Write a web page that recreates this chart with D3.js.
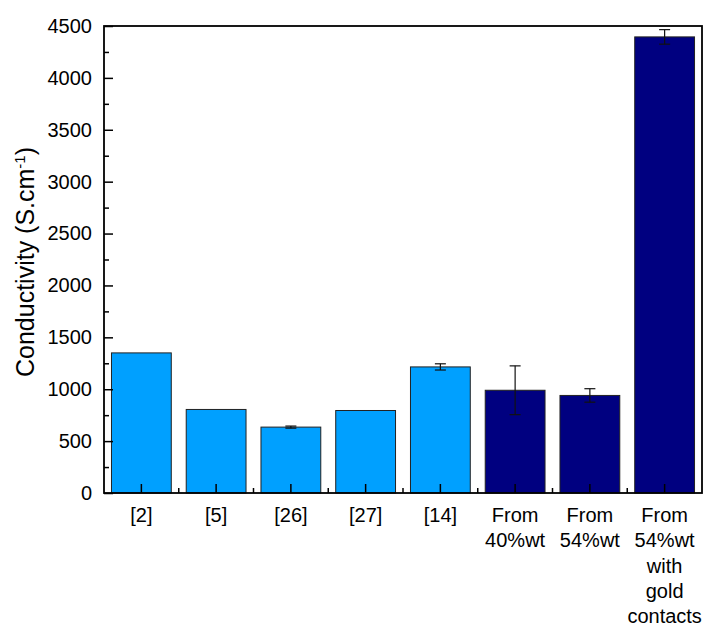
<!DOCTYPE html>
<html>
<head>
<meta charset="utf-8">
<script src="https://cdn.jsdelivr.net/npm/d3@7"></script>
<style>
  body { margin: 0; background: #fff; }
  text { font-family: "Liberation Sans", Arial, sans-serif; fill: #000; }
</style>
</head>
<body>
<div id="chart"></div>
<script>
// data
var categories = ["[2]", "[5]", "[26]", "[27]", "[14]", "From 40%wt", "From 54%wt", "From 54%wt gold"];
var labelLines = [["[2]"], ["[5]"], ["[26]"], ["[27]"], ["[14]"],
  ["From", "40%wt"], ["From", "54%wt"], ["From", "54%wt", "with", "gold", "contacts"]];
var values = [1350, 805, 635, 795, 1215, 990, 940, 4395];
var errors = [0, 0, 10, 0, 30, 235, 65, 70];
var source = ["lit", "lit", "lit", "lit", "lit", "this", "this", "this"];
var yTicks = [0, 500, 1000, 1500, 2000, 2500, 3000, 3500, 4000, 4500];
var yMinor = d3.range(250, 4500, 500);

var width = 705, height = 626;
var margin = {top: 26, right: 3, bottom: 133, left: 104};

var svg = d3.select("#chart").append("svg")
  .attr("width", width)
  .attr("height", height);

var g = svg.append("g")
  .attr("transform", "translate(" + margin.left + "," + margin.top + ")");

var w = width - margin.left - margin.right;
var h = height - margin.top - margin.bottom;

var x = d3.scaleBand()
  .domain(categories)
  .range([0, w])
  .paddingInner(0.2)
  .paddingOuter(0.1);

var y = d3.scaleLinear()
  .domain([0, 4500])
  .range([h, 0]);

var color = d3.scaleOrdinal()
  .domain(["lit", "this"])
  .range(["#00a0ff", "#000080"]);

// bars
g.selectAll("rect.bar")
  .data(values)
  .enter()
  .append("rect")
    .attr("class", "bar")
    .attr("x", function(d, i) { return x(categories[i]); })
    .attr("y", function(d) { return y(d); })
    .attr("width", x.bandwidth())
    .attr("height", function(d) { return h - y(d); })
    .attr("fill", function(d, i) { return color(source[i]); })
    .attr("stroke", "#222")
    .attr("stroke-width", 1);

// error bars
var cap = 5.5;
var eb = g.selectAll("g.err")
  .data(values.map(function(v, i) { return {v: v, e: errors[i], c: categories[i]}; })
    .filter(function(d) { return d.e > 0; }))
  .enter()
  .append("g")
    .attr("class", "err")
    .attr("stroke", "#111")
    .attr("stroke-width", 1.2);

eb.append("line")
  .attr("x1", function(d) { return x(d.c) + x.bandwidth() / 2; })
  .attr("x2", function(d) { return x(d.c) + x.bandwidth() / 2; })
  .attr("y1", function(d) { return y(d.v + d.e); })
  .attr("y2", function(d) { return y(d.v - d.e); });
eb.append("line")
  .attr("x1", function(d) { return x(d.c) + x.bandwidth() / 2 - cap; })
  .attr("x2", function(d) { return x(d.c) + x.bandwidth() / 2 + cap; })
  .attr("y1", function(d) { return y(d.v + d.e); })
  .attr("y2", function(d) { return y(d.v + d.e); });
eb.append("line")
  .attr("x1", function(d) { return x(d.c) + x.bandwidth() / 2 - cap; })
  .attr("x2", function(d) { return x(d.c) + x.bandwidth() / 2 + cap; })
  .attr("y1", function(d) { return y(d.v - d.e); })
  .attr("y2", function(d) { return y(d.v - d.e); });

// y axis: major ticks inward, labels outside
var yAxis = g.append("g")
  .call(d3.axisLeft(y).tickValues(yTicks).tickSizeInner(-9).tickSizeOuter(0).tickPadding(12).tickFormat(d3.format("d")));
yAxis.select(".domain").remove();
yAxis.selectAll("line").attr("stroke", "#000").attr("stroke-width", 1.5);
yAxis.selectAll("text").style("font-size", "20px");

g.append("g")
  .call(d3.axisLeft(y).tickValues(yMinor).tickSizeInner(-5).tickSizeOuter(0).tickFormat(""))
  .call(function(s) { s.select(".domain").remove(); })
  .selectAll("line").attr("stroke", "#000").attr("stroke-width", 1.5);

// x axis: ticks at bar centres pointing up, minor ticks between bars
var xAxis = g.append("g")
  .attr("transform", "translate(0," + h + ")")
  .call(d3.axisBottom(x).tickSizeInner(-9).tickSizeOuter(0).tickFormat(""));
xAxis.select(".domain").remove();
xAxis.selectAll("line").attr("stroke", "#000").attr("stroke-width", 1.5);

var between = categories.slice(1).map(function(c) { return x(c) - x.step() * x.paddingInner() / 2; });
g.selectAll("line.xminor")
  .data(between)
  .enter()
  .append("line")
    .attr("class", "xminor")
    .attr("x1", function(d) { return d; })
    .attr("x2", function(d) { return d; })
    .attr("y1", h)
    .attr("y2", h - 5)
    .attr("stroke", "#000")
    .attr("stroke-width", 1.5);

// category labels, one line per tspan
var lab = g.selectAll("text.xlab")
  .data(labelLines)
  .enter()
  .append("text")
    .attr("class", "xlab")
    .attr("text-anchor", "middle")
    .style("font-size", "20px")
    .attr("transform", function(d, i) { return "translate(" + (x(categories[i]) + x.bandwidth() / 2) + "," + (h + 29) + ")"; });
lab.selectAll("tspan")
  .data(function(d) { return d; })
  .enter()
  .append("tspan")
    .attr("x", 0)
    .attr("y", function(d, j) { return j * 25.3; })
    .text(function(d) { return d; });

// frame
g.append("rect")
  .attr("x", 0)
  .attr("y", 0)
  .attr("width", w)
  .attr("height", h)
  .attr("fill", "none")
  .attr("stroke", "#000")
  .attr("stroke-width", 1.8);

// y label
var yl = svg.append("text")
  .attr("transform", "translate(34,262) rotate(-90)")
  .attr("text-anchor", "middle")
  .style("font-size", "25px");
yl.append("tspan").text("Conductivity (S.cm");
yl.append("tspan").attr("dy", -9).style("font-size", "15px").text("-1");
yl.append("tspan").attr("dy", 9).text(")");
</script>
</body>
</html>
